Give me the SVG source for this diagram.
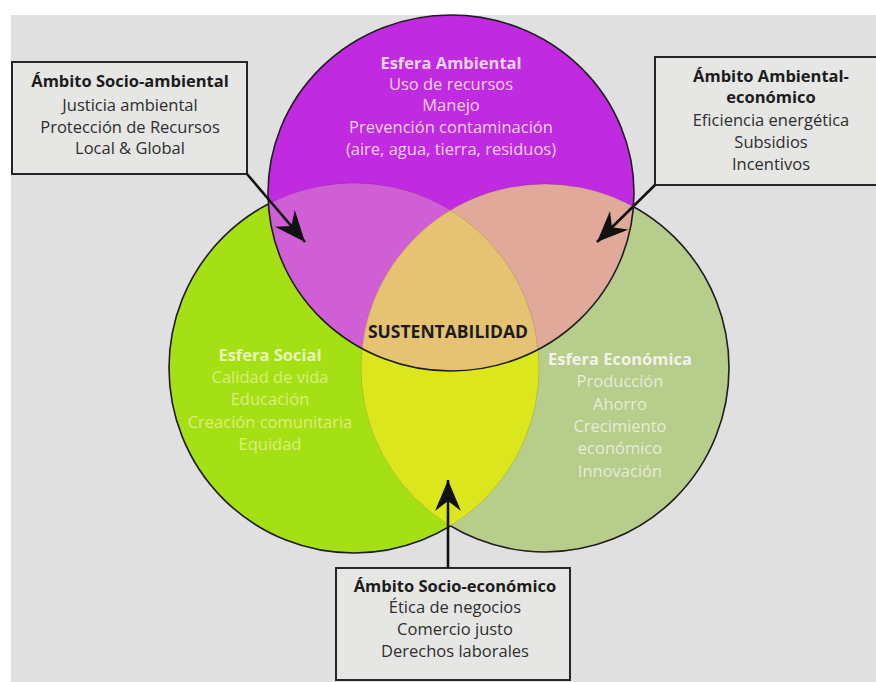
<svg xmlns="http://www.w3.org/2000/svg" width="876" height="682" viewBox="0 0 876 682">
<style>
text{font-family:"Open Sans","Liberation Sans",sans-serif;text-anchor:middle;font-size:16.5px}
.b{font-weight:bold}
.box{fill:#e6e6e5;stroke:#262626;stroke-width:2}
.bt{fill:#1c1c1c}
.bx{fill:#2e2e2e}
.amb{fill:#f4d4f4}
.soc{fill:#d9ef7e}
.socb{fill:#e9f5b8}
.eco{fill:#e6ecd6}
.ecob{fill:#f1f3ea}
.outline{fill:none;stroke:#1e1e1e;stroke-width:1.6}
.faint{fill:none;stroke:#000;stroke-opacity:0.12;stroke-width:1}
.arrow{stroke:#111;stroke-width:2.6;fill:none;marker-end:url(#ah)}
</style>
<defs>
<marker id="ah" markerUnits="userSpaceOnUse" markerWidth="32" markerHeight="26" viewBox="0 0 32 26" refX="31" refY="13" orient="auto">
<path d="M31,13 L0,0 L10,13 L0,26 Z" fill="#111"/>
</marker>
<clipPath id="inL"><circle cx="354" cy="368" r="185"/></clipPath>
<clipPath id="inR"><circle cx="545" cy="368" r="184"/></clipPath>
<clipPath id="outT"><path clip-rule="evenodd" d="M0,0H876V682H0Z M268,193 A183,178 0 1,0 634,193 A183,178 0 1,0 268,193Z"/></clipPath>
<clipPath id="outL"><path clip-rule="evenodd" d="M0,0H876V682H0Z M169,368 A185,185 0 1,0 539,368 A185,185 0 1,0 169,368Z"/></clipPath>
<clipPath id="outR"><path clip-rule="evenodd" d="M0,0H876V682H0Z M361,368 A184,184 0 1,0 729,368 A184,184 0 1,0 361,368Z"/></clipPath>
</defs>
<rect x="0" y="0" width="876" height="682" fill="#ffffff"/>
<rect x="11" y="15" width="865" height="667" fill="#dfe0df"/>

<g id="esfera-social">
<circle cx="354" cy="368" r="185" fill="#a5e015"/>
<text class="b socb" x="270" y="361">Esfera Social</text>
<text class="soc" x="270" y="383">Calidad de vida</text>
<text class="soc" x="270" y="405">Educación</text>
<text class="soc" x="270" y="428">Creación comunitaria</text>
<text class="soc" x="270" y="450">Equidad</text>
</g>
<g id="esfera-economica">
<circle cx="545" cy="368" r="184" fill="#b7cd8b"/>
<text class="b ecob" x="620" y="365">Esfera Económica</text>
<text class="eco" x="620" y="387">Producción</text>
<text class="eco" x="620" y="410">Ahorro</text>
<text class="eco" x="620" y="432">Crecimiento</text>
<text class="eco" x="620" y="454">económico</text>
<text class="eco" x="620" y="477">Innovación</text>
</g>
<g id="ambito-socio-economico-zona">
<circle cx="354" cy="368" r="185" fill="#dbe61d" clip-path="url(#inR)"/>
</g>
<g id="esfera-ambiental">
<ellipse cx="451" cy="193" rx="183" ry="178" fill="#c02ae0"/>
<text class="b amb" x="451" y="69">Esfera Ambiental</text>
<text class="amb" x="451" y="90">Uso de recursos</text>
<text class="amb" x="451" y="111">Manejo</text>
<text class="amb" x="451" y="133">Prevención contaminación</text>
<text class="amb" x="451" y="155">(aire, agua, tierra, residuos)</text>
</g>
<g id="ambito-socio-ambiental-zona">
<ellipse cx="451" cy="193" rx="183" ry="178" fill="#d05fd6" clip-path="url(#inL)"/>
</g>
<g id="ambito-ambiental-economico-zona">
<ellipse cx="451" cy="193" rx="183" ry="178" fill="#e0a99a" clip-path="url(#inR)"/>
</g>
<g id="sustentabilidad">
<g clip-path="url(#inL)"><ellipse cx="451" cy="193" rx="183" ry="178" fill="#e6c273" clip-path="url(#inR)"/></g>
<text class="b bt" x="448" y="338" style="font-size:17.5px">SUSTENTABILIDAD</text>
</g>

<g id="outlines">
<circle class="faint" cx="354" cy="368" r="185"/>
<circle class="faint" cx="545" cy="368" r="184"/>
<ellipse class="outline" cx="451" cy="193" rx="183" ry="178"/>
<g clip-path="url(#outT)"><circle class="outline" cx="354" cy="368" r="185" clip-path="url(#outR)"/></g>
<g clip-path="url(#outT)"><circle class="outline" cx="545" cy="368" r="184" clip-path="url(#outL)"/></g>
</g>

<g id="ambito-socio-ambiental">
<rect class="box" x="12" y="62" width="235" height="112"/>
<text class="b bt" x="130" y="87">Ámbito Socio-ambiental</text>
<text class="bx" x="130" y="111">Justicia ambiental</text>
<text class="bx" x="130" y="133">Protección de Recursos</text>
<text class="bx" x="130" y="154">Local &amp; Global</text>
</g>
<g id="ambito-ambiental-economico">
<rect class="box" x="655" y="57" width="230" height="128"/>
<text class="b bt" x="771" y="82">Ámbito Ambiental-</text>
<text class="b bt" x="771" y="103">económico</text>
<text class="bx" x="771" y="126">Eficiencia energética</text>
<text class="bx" x="771" y="148">Subsidios</text>
<text class="bx" x="771" y="170">Incentivos</text>
</g>
<g id="ambito-socio-economico">
<rect class="box" x="336" y="568" width="234" height="112"/>
<text class="b bt" x="455" y="592">Ámbito Socio-económico</text>
<text class="bx" x="455" y="613">Ética de negocios</text>
<text class="bx" x="455" y="635">Comercio justo</text>
<text class="bx" x="455" y="657">Derechos laborales</text>
</g>

<g id="connectors">
<line class="arrow" x1="247" y1="174" x2="305" y2="242"/>
<line class="arrow" x1="655" y1="185" x2="597" y2="242"/>
<line class="arrow" x1="448" y1="568" x2="448" y2="480"/>
</g>
</svg>
